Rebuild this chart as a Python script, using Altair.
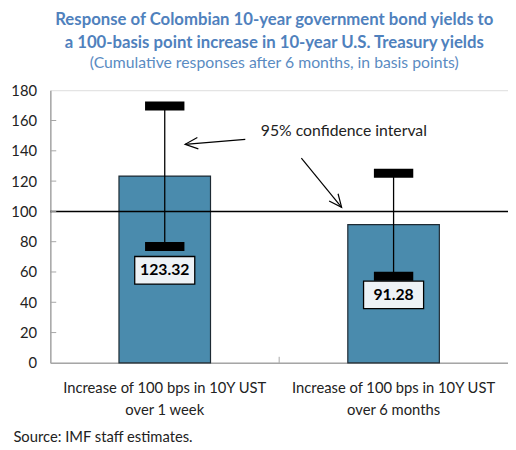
import altair as alt
import pandas as pd

# ---- data ----
categories = [
    "Increase of 100 bps in 10Y UST|over 1 week",
    "Increase of 100 bps in 10Y UST|over 6 months",
]
values = [123.32, 91.28]
ci_low = [76.8, 57.2]
ci_high = [169.6, 125.2]
value_labels = ["123.32", "91.28"]
label_y = [61.1, 44.9]
y_ticks = [0, 20, 40, 60, 80, 100, 120, 140, 160, 180]
inner_ticks = [20, 40, 60, 80, 100, 120, 140, 160]
reference_level = [100]

annot_text = ["95% confidence interval"]
annot_x = [0.92]
annot_y = [152.8]
arrow_x = [0.852, 1.097]
arrow_y = [147.6, 135.2]
arrow_x2 = [0.589, 1.273]
arrow_y2 = [144.3, 102.7]
arrow_angle = [175, 51]

df = pd.DataFrame({
    "cat": categories, "value": values, "lo": ci_low, "hi": ci_high,
    "label": value_labels, "label_y": label_y,
})
ticks_df = pd.DataFrame({"t": inner_ticks})
ref_df = pd.DataFrame({"y": reference_level})
mid_df = pd.DataFrame({"cat": [categories[1]], "y0": [0], "y1": [4]})
annot_df = pd.DataFrame({"x": annot_x, "y": annot_y, "text": annot_text})
arrow_df = pd.DataFrame({"x": arrow_x, "y": arrow_y, "x2": arrow_x2, "y2": arrow_y2,
                         "angle": arrow_angle})

BAR = "#4A8BAD"
FONT = "Lato"

yscale = alt.Scale(domain=[0, 180], nice=False)
xscale = alt.Scale(paddingInner=0, paddingOuter=0)

x_enc = alt.X(
    "cat:N", sort=None, scale=xscale,
    axis=alt.Axis(
        labelExpr="split(datum.label, '|')", labelAngle=0, labelFontSize=15,
        labelLineHeight=22, labelPadding=18, labelColor="#222", labelFont=FONT,
        labelLimit=0, ticks=False, domainColor="#A6A6A6", domainWidth=1.5,
        title="Source:  IMF staff estimates.", titleX=-38, titleY=75,
        titleAlign="left", titleBaseline="middle", titleFontWeight="normal",
        titleFontSize=15, titleColor="#222", titleFont=FONT,
    ),
)
y_axis = alt.Axis(values=y_ticks, labelFontSize=15, labelColor="#222", labelFont=FONT,
                  labelOverlap=False, ticks=False, grid=False, domainColor="#A6A6A6",
                  domainWidth=1.5, labelPadding=14, title=None)
y_enc = alt.Y("value:Q", scale=yscale, axis=y_axis)

bars = alt.Chart(df).mark_bar(size=93, color=BAR, stroke="#1E2A33", strokeWidth=1.2).encode(
    x=x_enc, y=y_enc)

whisk = alt.Chart(df).mark_rule(color="black", strokeWidth=1.3).encode(
    x=alt.X("cat:N", sort=None), y=alt.Y("lo:Q", axis=y_axis), y2="hi:Q")

ref = alt.Chart(ref_df).mark_rule(color="black", strokeWidth=1.5).encode(
    y=alt.Y("y:Q", axis=y_axis))

cap_hi = alt.Chart(df).mark_tick(orient="horizontal", size=40, thickness=9, color="black",
                                 opacity=1).encode(
    x=alt.X("cat:N", sort=None), y=alt.Y("hi:Q", axis=y_axis))
cap_lo = alt.Chart(df).mark_tick(orient="horizontal", size=40, thickness=9, color="black",
                                 opacity=1).encode(
    x=alt.X("cat:N", sort=None), y=alt.Y("lo:Q", axis=y_axis))

box = alt.Chart(df).mark_point(
    shape="M-1,-0.46H1V0.46H-1Z", size=3721, filled=True, fill="#EDF2F6",
    stroke="black", strokeWidth=1.3, opacity=1,
).encode(x=alt.X("cat:N", sort=None), y=alt.Y("label_y:Q", axis=y_axis))

txt = alt.Chart(df).mark_text(font=FONT, fontSize=16, fontWeight="bold", color="black",
                              baseline="middle").encode(
    x=alt.X("cat:N", sort=None), y=alt.Y("label_y:Q", axis=y_axis), text="label:N")

ytick_marks = alt.Chart(ticks_df).mark_tick(orient="horizontal", size=6, thickness=1,
                                            color="#A6A6A6", opacity=1).encode(
    x=alt.value(3), y=alt.Y("t:Q", axis=y_axis))

mid_tick = alt.Chart(mid_df).mark_rule(color="#A6A6A6", strokeWidth=1).encode(
    x=alt.X("cat:N", sort=None, bandPosition=0), y=alt.Y("y0:Q", axis=y_axis), y2="y1:Q")

main = alt.layer(bars, whisk, ref, cap_hi, cap_lo, box, txt, ytick_marks, mid_tick)

ascale = alt.Scale(domain=[0, 2], nice=False, zero=False)
annot = alt.Chart(annot_df).mark_text(font=FONT, fontSize=16, color="#222", align="left",
                                      baseline="middle").encode(
    x=alt.X("x:Q", scale=ascale, axis=None), y=alt.Y("y:Q", axis=y_axis), text="text:N")
arrows = alt.Chart(arrow_df).mark_rule(color="black", strokeWidth=1.2).encode(
    x=alt.X("x:Q", scale=ascale, axis=None), x2="x2:Q", y=alt.Y("y:Q", axis=y_axis), y2="y2:Q")
heads = alt.Chart(arrow_df).mark_point(
    shape="M-1,-0.45L0,0L-1,0.45", size=676, filled=False, stroke="black",
    strokeWidth=1.2, opacity=1,
).encode(x=alt.X("x2:Q", scale=ascale, axis=None), y=alt.Y("y2:Q", axis=y_axis),
         angle=alt.Angle("angle:Q", scale=None))
ann = alt.layer(annot, arrows, heads)

chart = alt.layer(main, ann).resolve_scale(x="independent").properties(
    width=465, height=277,
    autosize=alt.AutoSizeParams(type="none"),
    padding={"left": 43, "top": 80, "right": 0, "bottom": 85},
    title=alt.TitleParams(
        text=["Response of Colombian 10-year government bond yields to",
              "a 100-basis point increase in 10-year U.S. Treasury yields"],
        subtitle="(Cumulative responses after 6 months, in basis points)",
        font=FONT, fontSize=17, fontWeight="bold", color="#4F81BD", lineHeight=23,
        subtitleFont=FONT, subtitleFontSize=16, subtitleColor="#5A8BC2",
        subtitleLineHeight=18, subtitlePadding=3, anchor="middle", offset=12, dx=-5,
    ),
).configure_view(stroke=None).configure(font=FONT).configure_axisY(labelOverlap=False)

chart.save("out.html", embed_options={"renderer": "svg", "actions": False})
